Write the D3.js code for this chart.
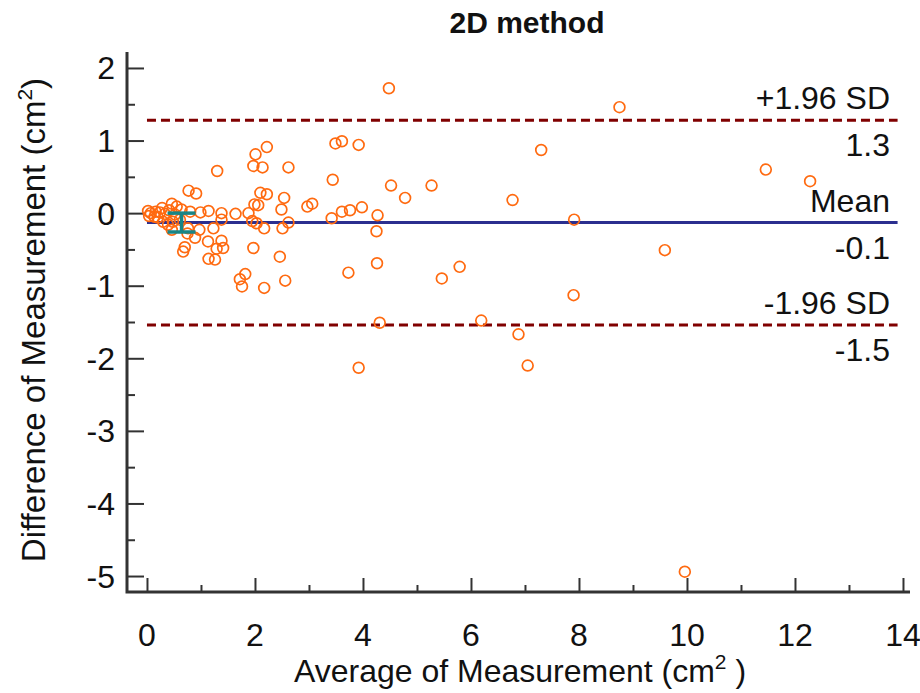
<!DOCTYPE html>
<html>
<head>
<meta charset="utf-8">
<script src="https://cdn.jsdelivr.net/npm/d3@7"></script>
<style>
  body { margin: 0; background: #fff; }
  text { font-family: "Liberation Sans", Arial, sans-serif; fill: #111; }
</style>
</head>
<body>
<svg id="chart" width="920" height="693"></svg>
<script>
// Bland-Altman data: average (x) vs difference (y)
const avgValues = [
  4.48, 8.75, 11.46, 12.28, 7.30, 6.77, 7.91, 9.59, 7.90, 5.46,
  5.79, 6.19, 6.88, 7.05, 3.92, 4.31, 9.96, 5.27, 4.78, 4.52,
  3.49, 3.61, 3.92, 3.44, 2.97, 3.06, 3.42, 3.61, 3.76, 3.98,
  4.27, 4.25, 4.26, 3.73, 2.22, 2.01, 1.97, 2.14, 1.30, 2.62,
  0.77, 0.91, 2.10, 2.22, 1.99, 2.06, 2.54, 2.49, 1.64, 1.38,
  1.14, 0.99, 1.88, 1.95, 2.03, 2.17, 2.51, 2.62, 1.38, 1.23,
  0.97, 0.75, 0.70, 1.13, 1.38, 1.41, 1.29, 1.97, 2.46, 1.14,
  1.26, 1.82, 1.72, 1.76, 2.17, 2.56, 0.07, 0.16, 0.24, 0.33,
  0.14, 0.46, 0.55, 0.41, 0.64, 0.80, 0.30, 0.39, 0.46, 0.76,
  0.89, 0.67, 0.04, 0.20, 0.52, 0.61, 0.02, 0.28, 0.48
];
const diffValues = [
  1.72, 1.46, 0.60, 0.44, 0.87, 0.18, -0.09, -0.51, -1.13, -0.90,
  -0.74, -1.48, -1.67, -2.10, -2.13, -1.51, -4.94, 0.38, 0.21, 0.38,
  0.96, 0.99, 0.94, 0.46, 0.09, 0.13, -0.07, 0.02, 0.04, 0.08,
  -0.03, -0.25, -0.69, -0.82, 0.91, 0.81, 0.65, 0.63, 0.58, 0.63,
  0.31, 0.27, 0.28, 0.26, 0.12, 0.11, 0.21, 0.05, -0.01, 0.00,
  0.03, 0.01, 0.00, -0.11, -0.14, -0.21, -0.21, -0.13, -0.09, -0.21,
  -0.23, -0.28, -0.47, -0.39, -0.38, -0.48, -0.49, -0.48, -0.60, -0.63,
  -0.64, -0.84, -0.91, -1.01, -1.03, -0.93, 0.00, 0.02, 0.01, -0.01,
  -0.05, 0.13, 0.09, 0.04, 0.05, 0.02, -0.12, -0.16, -0.23, -0.21,
  -0.34, -0.53, -0.04, -0.06, -0.02, -0.09, 0.03, 0.07, -0.12
];

const meanDiff = -0.13;
const upperLoA = 1.28;
const lowerLoA = -1.54;
const meanCI = [-0.26, 0.0];
const ciAt = 0.64;

const xTicks = [0, 2, 4, 6, 8, 10, 12, 14];
const yTicks = [-5, -4, -3, -2, -1, 0, 1, 2];

const refLines = [
  { value: upperLoA, label: "+1.96 SD", valueText: "1.3", dashed: true },
  { value: meanDiff, label: "Mean", valueText: "-0.1", dashed: false },
  { value: lowerLoA, label: "-1.96 SD", valueText: "-1.5", dashed: true }
];

const svg = d3.select("#chart");

const x = d3.scaleLinear().domain([-0.37, 14.13]).range([127, 910]);
const y = d3.scaleLinear().domain([-5.22, 2.22]).range([592, 52]);

const axisColor = "#333";
const fontSize = 32;

// axes, ticks drawn inward
const yAxis = svg.append("g").attr("transform", `translate(${x.range()[0]},0)`);
yAxis.call(
  d3.axisRight(y).tickValues(d3.range(-5, 2.01, 0.5)).tickSize(0).tickFormat("")
);
yAxis.select(".domain").remove();
yAxis.selectAll(".tick line")
  .attr("x2", d => (Number.isInteger(d) ? 17 : 8))
  .attr("stroke", axisColor)
  .attr("stroke-width", 2);

const xAxis = svg.append("g").attr("transform", `translate(0,${y.range()[0]})`);
xAxis.call(
  d3.axisTop(x).tickValues(d3.range(0, 14.01, 1)).tickSize(0).tickFormat("")
);
xAxis.select(".domain").remove();
xAxis.selectAll(".tick line")
  .attr("y2", d => (d % 2 === 0 ? -14 : -7))
  .attr("stroke", axisColor)
  .attr("stroke-width", 2);

svg.append("path")
  .attr("d", `M${x.range()[0]},${y.range()[1]}V${y.range()[0]}H${x.range()[1]}`)
  .attr("fill", "none")
  .attr("stroke", axisColor)
  .attr("stroke-width", 3);

// tick labels
svg.append("g").selectAll("text")
  .data(yTicks)
  .join("text")
  .attr("x", 115)
  .attr("y", d => y(d))
  .attr("dy", "0.36em")
  .attr("text-anchor", "end")
  .attr("font-size", fontSize)
  .text(d => d);

svg.append("g").selectAll("text")
  .data(xTicks)
  .join("text")
  .attr("x", d => x(d))
  .attr("y", 646)
  .attr("text-anchor", "middle")
  .attr("font-size", fontSize)
  .text(d => d);

// reference lines
refLines.forEach(r => {
  svg.append("line")
    .attr("x1", x(0)).attr("x2", x(13.9))
    .attr("y1", y(r.value)).attr("y2", y(r.value))
    .attr("stroke", r.dashed ? "#800000" : "#2b2f8f")
    .attr("stroke-width", 3)
    .attr("stroke-dasharray", r.dashed ? "9,5" : null);
  svg.append("text")
    .attr("x", 890).attr("y", y(r.value) - 11)
    .attr("text-anchor", "end").attr("font-size", fontSize)
    .text(r.label);
  svg.append("text")
    .attr("x", 890).attr("y", y(r.value) + 36)
    .attr("text-anchor", "end").attr("font-size", fontSize)
    .text(r.valueText);
});

// points
svg.append("g").selectAll("circle")
  .data(d3.zip(avgValues, diffValues))
  .join("circle")
  .attr("cx", d => x(d[0]))
  .attr("cy", d => y(d[1]))
  .attr("r", 5.4)
  .attr("fill", "none")
  .attr("stroke", "#ff6a10")
  .attr("stroke-width", 1.7);

// confidence interval of the mean
const ci = svg.append("g").attr("stroke", "#1a8585").attr("stroke-width", 3.5);
ci.append("line")
  .attr("x1", x(ciAt)).attr("x2", x(ciAt))
  .attr("y1", y(meanCI[0])).attr("y2", y(meanCI[1]));
meanCI.forEach(v => {
  ci.append("line")
    .attr("x1", x(ciAt) - 14).attr("x2", x(ciAt) + 14)
    .attr("y1", y(v)).attr("y2", y(v));
});

// titles
svg.append("text")
  .attr("x", 527).attr("y", 33)
  .attr("text-anchor", "middle")
  .attr("font-size", 30).attr("font-weight", "bold")
  .text("2D method");

const xt = svg.append("text")
  .attr("x", 520).attr("y", 682)
  .attr("text-anchor", "middle").attr("font-size", fontSize)
  .text("Average of Measurement (cm");
xt.append("tspan").attr("font-size", 21).attr("dy", -13).text("2");
xt.append("tspan").attr("dy", 13).text(" )");

const yt = svg.append("text")
  .attr("transform", "translate(45,320) rotate(-90)")
  .attr("text-anchor", "middle").attr("font-size", 33)
  .text("Difference of Measurement (cm");
yt.append("tspan").attr("font-size", 21).attr("dy", -13).text("2");
yt.append("tspan").attr("dy", 13).text(")");
</script>
</body>
</html>
